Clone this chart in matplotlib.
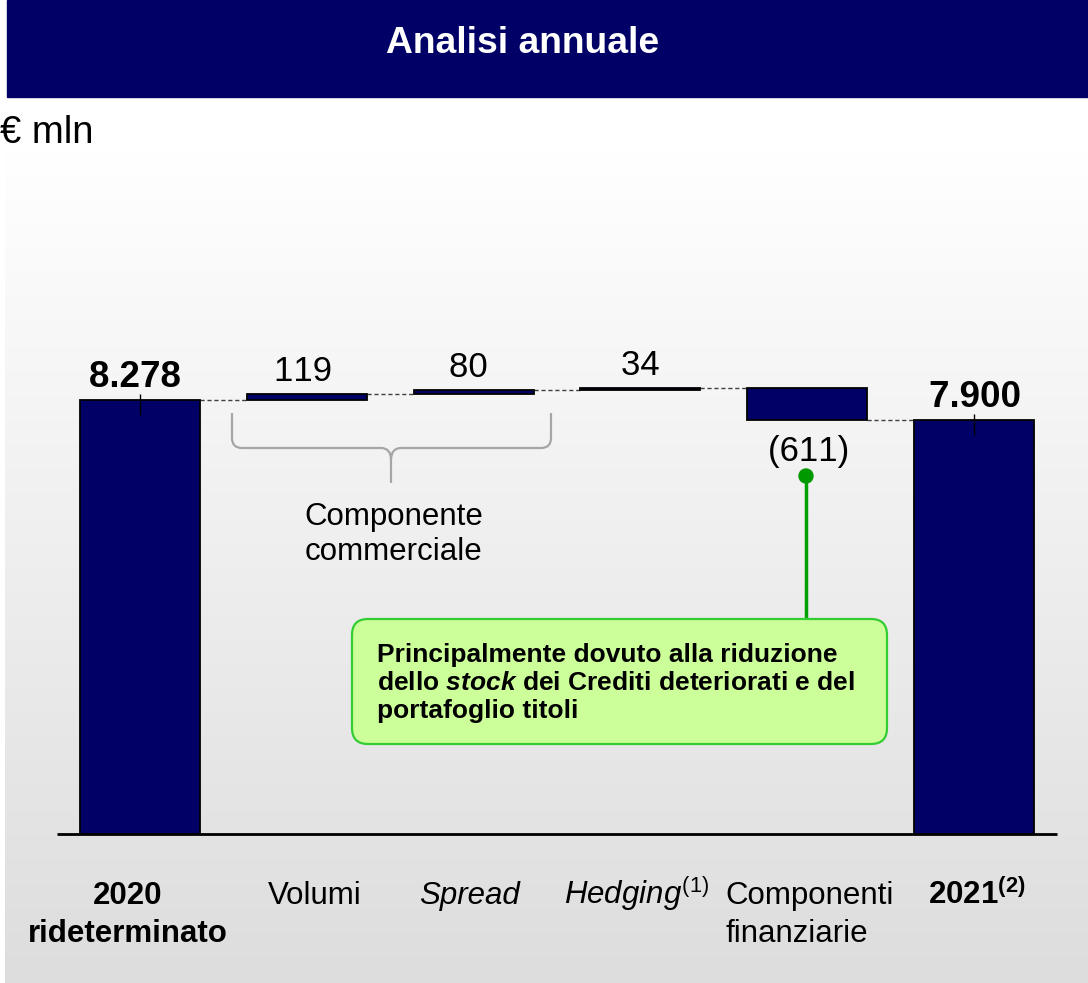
import matplotlib
matplotlib.use("Agg")
import matplotlib.pyplot as plt
import numpy as np
from matplotlib.patches import Rectangle, FancyBboxPatch, Circle, PathPatch
from matplotlib.path import Path
from matplotlib.transforms import blended_transform_factory

plt.rcParams['font.family'] = ['Liberation Sans', 'DejaVu Sans']
plt.rcParams['mathtext.fontset'] = 'custom'
plt.rcParams['mathtext.rm'] = 'Liberation Sans'
plt.rcParams['mathtext.it'] = 'Liberation Sans:italic'
plt.rcParams['mathtext.bf'] = 'Liberation Sans:bold'
plt.rcParams['mathtext.sf'] = 'Liberation Sans:italic:bold'

# ---------------- data ----------------
title = "Analisi annuale"
unit_label = "€ mln"
categories = ["2020\nrideterminato", "Volumi", "Spread", "Hedging",
              "Componenti\nfinanziarie", "2021"]
category_notes = ["", "", "", "(1)", "", "(2)"]
start_total = 8278
deltas = [119, 80, 34, -611]
end_total = 7900
value_labels = ["8.278", "119", "80", "34", "(611)", "7.900"]
group_label = ["Componente", "commerciale"]
callout_lines = ["Principalmente dovuto alla riduzione",
                 r"dello $\mathsf{stock}$ dei Crediti deteriorati e del",
                 "portafoglio titoli"]

# ---------------- waterfall geometry from data ----------------
bottoms, heights, levels = [0], [start_total], [start_total]
running = start_total
for d in deltas:
    if d >= 0:
        bottoms.append(running); heights.append(d)
    else:
        bottoms.append(running + d); heights.append(-d)
    running += d
    levels.append(running)
bottoms.append(0); heights.append(end_total)
n = len(categories)
xs = np.arange(n)


def no_kern(s):
    # zero-width joiners between glyphs so digit pairs such as "11" are not kerned
    return "\u200b".join(s)


# ---------------- figure ----------------
W, H = 1088, 983
fig = plt.figure(figsize=(W / 100, H / 100), dpi=100, facecolor="white")

bg = fig.add_axes([0, 0, 1, 1])
bg.axis("off")
grad = np.linspace(255, 221, 256)[:, None, None] / 255 * np.ones((1, 1, 3))
bg.imshow(grad, extent=(5, W, H, 150), aspect="auto", interpolation="bilinear", zorder=0)
bg.add_patch(Rectangle((7, 0), W - 7, 97, color="#000066", zorder=1))
bg.set_xlim(0, W)
bg.set_ylim(H, 0)
bg.text(523, 53, title, color="white", fontsize=26.8, fontweight="bold",
        ha="center", va="baseline", zorder=2)
bg.text(0, 143, unit_label, fontsize=27.5, ha="left", va="baseline", zorder=2)

# chart axes, placed so that value 0 sits on the baseline
BASE_PX, K = 834, 0.05243          # pixel row of zero, pixels per unit
X0_PX, STEP_PX = 140, 166.8
ax = fig.add_axes([0, 0, 1, 1])
ax.patch.set_alpha(0)
ax.axis("off")
ax.set_xlim(-X0_PX / STEP_PX, (W - X0_PX) / STEP_PX)
ax.set_ylim((BASE_PX - H) / K, BASE_PX / K)

bw = 0.72
ax.bar(xs, heights, bottom=bottoms, width=bw, color="#000066",
       edgecolor="black", linewidth=1.3, zorder=3)
ax.plot([-0.5, n - 0.5], [0, 0], color="black", lw=2, zorder=4,
        solid_capstyle="butt")

for i in range(n - 1):
    ax.plot([i + bw / 2, i + 1 - bw / 2], [levels[i], levels[i]],
            ls=(0, (3, 2)), color="#404040", lw=1, zorder=2)

# small marks on total bars
for i in (0, n - 1):
    top = bottoms[i] + heights[i]
    ax.vlines(i, top - 15 / K, top + 6 / K, color="black", lw=1, zorder=5)

# value labels
lab_dx = [-5, -4, -5, 0, 1, 1]
for i in range(n):
    bold = i in (0, n - 1)
    is_neg = (0 < i < n - 1) and deltas[i - 1] < 0
    if is_neg:
        y = bottoms[i]; off = -41
    else:
        y = bottoms[i] + heights[i]; off = 13
    ax.annotate(no_kern(value_labels[i]), xy=(i, y),
                xytext=(lab_dx[i] * 0.72, off * 0.72),
                textcoords="offset points", ha="center", va="baseline",
                fontsize=26.5 if bold else 25,
                fontweight="bold" if bold else "normal", zorder=6)

# category labels
tr = blended_transform_factory(ax.transData, bg.transData)
dx_px = [-12, 8, -4, -4, -82, 3]
for i, lab in enumerate(categories):
    lines = lab.split("\n")
    bold = i in (0, n - 1)
    italic = lab in ("Spread", "Hedging")
    note = category_notes[i]
    for k, line in enumerate(lines):
        txt = line
        if note and k == 0:
            if bold:
                txt = r"$\mathbf{%s}^{\mathbf{%s}}$" % (line, note)
            elif italic:
                txt = r"$\mathit{%s}^{\mathrm{%s}}$" % (line, note)
        ha = "left" if (len(lines) > 1 and not bold) else "center"
        ax.text(i + dx_px[i] / STEP_PX, [904, 942][k], txt, transform=tr,
                ha=ha, va="baseline", fontsize=22.5,
                fontweight="bold" if bold else "normal",
                fontstyle="italic" if italic else "normal", zorder=6)

# brace for the commercial component
verts = [(232, 413), (232, 438), (232, 448), (242, 448), (381, 448),
         (391, 448), (391, 460), (391, 483),
         (391, 460), (391, 448), (401, 448), (541, 448), (551, 448),
         (551, 438), (551, 413)]
codes = [Path.MOVETO, Path.LINETO, Path.CURVE3, Path.CURVE3, Path.LINETO,
         Path.CURVE3, Path.CURVE3, Path.LINETO,
         Path.MOVETO, Path.CURVE3, Path.CURVE3, Path.LINETO, Path.CURVE3,
         Path.CURVE3, Path.LINETO]
bg.add_patch(PathPatch(Path(verts, codes), facecolor="none",
                       edgecolor="#a6a6a6", lw=1.6, zorder=3))
for k, line in enumerate(group_label):
    bg.text(394, [525, 560][k], line, fontsize=22.5, ha="center",
            va="baseline", zorder=3)

# callout
bg.plot([806, 806], [476, 619], color="#00a000", lw=2.5, zorder=4)
bg.add_patch(Circle((806, 476), 7, color="#009900", zorder=5))
bg.add_patch(FancyBboxPatch((352, 619), 535, 125,
                            boxstyle="round,pad=0,rounding_size=16",
                            facecolor="#ccff99", edgecolor="#33cc33",
                            lw=1.6, zorder=4))
for k, line in enumerate(callout_lines):
    bg.text(377, [662, 690, 718][k], line, fontsize=19, fontweight="bold",
            ha="left", va="baseline", zorder=6)

fig.savefig("out.png", dpi=100)
